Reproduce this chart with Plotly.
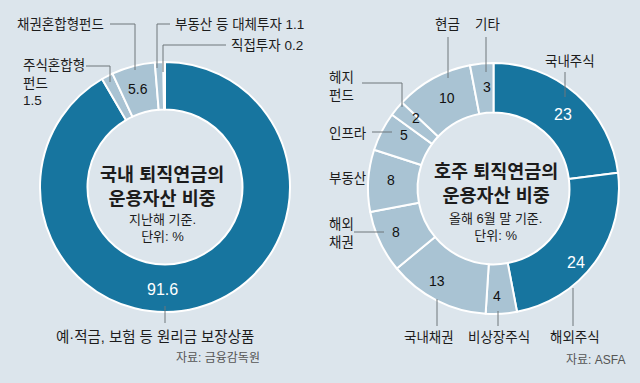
import math
import plotly.graph_objects as go

# ---------------- data ----------------
kr_labels = ["예·적금, 보험 등 원리금 보장상품", "주식혼합형 펀드", "채권혼합형펀드", "부동산 등 대체투자", "직접투자"]
kr_values = [91.6, 1.5, 5.6, 1.1, 0.2]

au_labels = ["국내주식", "해외주식", "비상장주식", "국내채권", "해외채권", "부동산", "인프라", "헤지펀드", "현금", "기타"]
au_values = [23, 24, 4, 13, 8, 8, 5, 2, 10, 3]

kr_title = "국내 퇴직연금의<br>운용자산 비중"
kr_sub = "지난해 기준.<br>단위: %"
au_title = "호주 퇴직연금의<br>운용자산 비중"
au_sub = "올해 6월 말 기준.<br>단위: %"
kr_source = "자료: 금융감독원"
au_source = "자료: ASFA"

# ---------------- style ----------------
W, H = 640, 383
BG = "#dce5ec"
DARK = "#17759f"
LIGHT = "#a9c3d3"
TXT = "#1c1c1c"
LINE = "#6f767b"
FONT = "Liberation Sans, Noto Sans CJK KR"
LBL = 13.5

kr_colors = [DARK, LIGHT, LIGHT, LIGHT, LIGHT]
au_colors = [DARK, DARK] + [LIGHT] * 8

KR_C, KR_R, KR_HOLE = (165, 187), 125, 0.62
AU_C, AU_R, AU_HOLE = (493.5, 188.5), 125.5, 0.605


def px(x):
    return x / W


def py(y):
    return 1 - y / H


def domain(c, r):
    return dict(x=[px(c[0] - r), px(c[0] + r)], y=[py(c[1] + r), py(c[1] - r)])


fig = go.Figure()
for vals, labs, cols, c, r, hole in [
    (kr_values, kr_labels, kr_colors, KR_C, KR_R, KR_HOLE),
    (au_values, au_labels, au_colors, AU_C, AU_R, AU_HOLE),
]:
    fig.add_trace(go.Pie(
        values=vals, labels=labs, sort=False, direction="clockwise", rotation=0,
        hole=hole, domain=domain(c, r), textinfo="none", hoverinfo="label+value",
        marker=dict(colors=cols, line=dict(color="white", width=2)),
        showlegend=False,
    ))

annotations = []
shapes = []


def ann(x, y, text, size=LBL, color=TXT, xanchor="center", yanchor="middle", align="center", bold=False):
    if bold:
        text = "<b>" + text.replace("<br>", "</b><br><b>") + "</b>"
    annotations.append(dict(x=px(x), y=py(y), xref="paper", yref="paper", text=text,
                            showarrow=False, xanchor=xanchor, yanchor=yanchor, align=align,
                            font=dict(family=FONT, size=size, color=color)))


def path(pts):
    d = "M " + " L ".join(f"{px(x)},{py(y)}" for x, y in pts)
    shapes.append(dict(type="path", path=d, xref="paper", yref="paper",
                       line=dict(color=LINE, width=1)))


def fmt(v):
    return f"{v:g}"


def value_labels(vals, cols, c, r, hole, show, nudges):
    total = sum(vals)
    rmid = r * (1 + hole) / 2
    cum = 0
    for i, v in enumerate(vals):
        f = (cum + v / 2) / total
        cum += v
        if not show[i]:
            continue
        th = 2 * math.pi * f
        x = c[0] + rmid * math.sin(th) + nudges[i][0]
        y = c[1] - rmid * math.cos(th) + nudges[i][1]
        dark = cols[i] == DARK
        ann(x, y, fmt(v), size=16 if dark else 14, color="white" if dark else "#111")


# inside value labels
value_labels(kr_values, kr_colors, KR_C, KR_R, KR_HOLE,
             [True, False, True, False, False],
             [(-29, 5), (0, 0), (-1, 0), (0, 0), (0, 0)])
value_labels(au_values, au_colors, AU_C, AU_R, AU_HOLE,
             [True] * 10,
             [(3, 2), (1, 15), (-3, 7), (-11, 3), (-6, 1), (-2, -2), (0, -8), (0, -6), (2, -2), (3, -1)])

# centre titles
ann(KR_C[0] - 3, 186, kr_title, size=18.5, bold=True)
ann(KR_C[0] - 3, 228, kr_sub, size=13)
ann(AU_C[0] + 2, 183, au_title, size=18.5, bold=True)
ann(AU_C[0] + 2, 227, au_sub, size=13)

# ---- left chart outside labels ----
ann(106, 25, kr_labels[2], xanchor="right")
path([(110, 24), (135, 24), (135, 70)])
ann(21, 83, "주식혼합형<br>펀드<br>" + fmt(kr_values[1]), xanchor="left", align="left")
path([(86, 66), (110, 66), (110, 82)])
ann(173, 25, kr_labels[3] + " " + fmt(kr_values[3]), xanchor="left")
path([(170, 24), (157, 24), (157, 68)])
ann(229, 45, kr_labels[4] + " " + fmt(kr_values[4]), xanchor="left")
path([(226, 45), (163, 45), (163, 72)])
ann(155, 337, kr_labels[0], size=14.5)
path([(165, 306), (165, 323)])
ann(262, 358, kr_source, size=12, color="#555", xanchor="right")

# ---- right chart outside labels ----
ann(570, 61, au_labels[0])
path([(565, 72), (565, 97)])
ann(575, 337, au_labels[1])
path([(573, 288), (573, 326)])
ann(499, 337, au_labels[2])
path([(498, 311), (498, 326)])
ann(429, 337, au_labels[3])
path([(437, 299), (437, 326)])
ann(327, 233, "해외<br>채권", xanchor="left", align="left")
path([(354, 232), (384, 232)])
ann(327, 178, au_labels[5], xanchor="left")
ann(327, 133, au_labels[6], xanchor="left")
path([(372, 132), (392, 132)])
ann(327, 86, "헤지<br>펀드", xanchor="left", align="left")
path([(362, 83), (402, 83), (402, 107)])
ann(447, 25, au_labels[8])
path([(448, 37), (448, 78)])
ann(487, 25, au_labels[9])
path([(486, 37), (486, 72)])
ann(627, 360, au_source, size=12, color="#555", xanchor="right")

fig.update_layout(
    width=W, height=H, margin=dict(l=0, r=0, t=0, b=0),
    paper_bgcolor=BG, plot_bgcolor=BG,
    annotations=annotations, shapes=shapes,
    font=dict(family=FONT),
)

fig.write_html("out.html", config={"displayModeBar": False},
               post_script="document.body.style.margin='0';document.body.style.background='" + BG + "';")
